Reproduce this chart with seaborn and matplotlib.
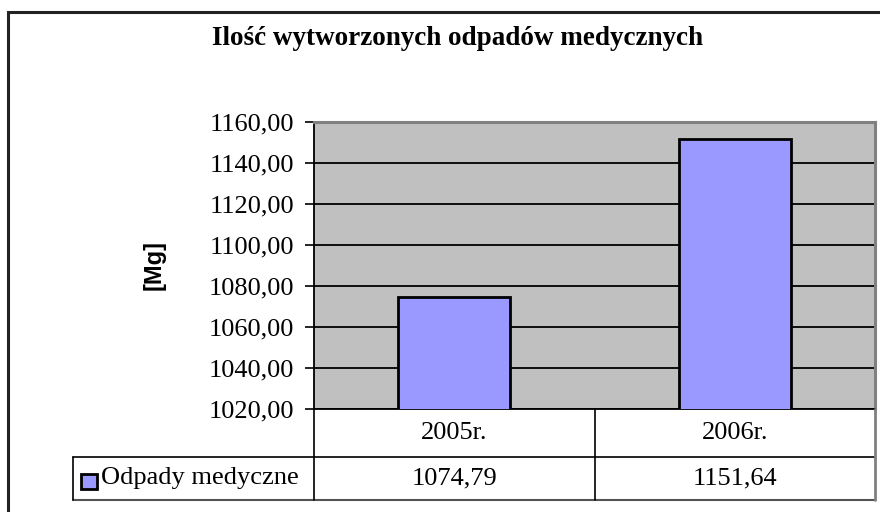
import matplotlib

matplotlib.use("Agg")

import matplotlib.pyplot as plt
import matplotlib.transforms as mtransforms
from matplotlib.lines import Line2D
from matplotlib.patches import Rectangle
import seaborn as sns


years = ["2005r.", "2006r."]
values = [1074.79, 1151.64]
series_name = "Odpady medyczne"
title = "Ilość wytworzonych odpadów medycznych"
y_label = "[Mg]"
y_ticks = [1020, 1040, 1060, 1080, 1100, 1120, 1140, 1160]

BAR_COLOR = "#9999FF"
PLOT_BG = "#C0C0C0"
SERIF = "Liberation Serif"
SANS = "Liberation Sans"

W, H = 880, 512


def fx(px):
    return px / W


def fy(py):
    return 1 - py / H


def fmt(v):
    return f"{v:.2f}".replace(".", ",")


sns.set_style("white")
plt.rcParams["font.family"] = [SERIF, "DejaVu Serif"]
plt.rcParams["text.color"] = "black"
plt.rcParams["axes.labelcolor"] = "black"
plt.rcParams["ytick.color"] = "black"
plt.rcParams["ytick.labelcolor"] = "black"

fig = plt.figure(figsize=(W / 100, H / 100), dpi=100)

# outer chart border
fig.add_artist(Rectangle((fx(8), fy(540)), fx(920) - fx(8), fy(12) - fy(540),
                         transform=fig.transFigure, fill=False,
                         edgecolor="#222222", linewidth=2.2))

ax = fig.add_axes([fx(314), fy(409), fx(875) - fx(314), fy(122) - fy(409)])
ax.set_facecolor(PLOT_BG)

sns.barplot(x=years, y=values, ax=ax, color=BAR_COLOR, saturation=1,
            edgecolor="black", linewidth=2, width=0.4, zorder=3)

ax.set_xlim(-0.5, 1.5)
ax.set_ylim(1020, 1160)
ax.set_yticks(y_ticks)
ax.set_yticklabels([fmt(t) for t in y_ticks], fontsize=19, color="black")
ax.set_xticks([])
ax.set_xlabel("")
ax.set_ylabel(y_label, fontsize=17, fontweight="bold", family=SANS, labelpad=31,
              color="black")
ax.tick_params(axis="y", direction="out", length=6.5, width=1.2, color="black", pad=8,
               left=True)
ax.yaxis.grid(True, color="black", linewidth=1.3, zorder=1)
ax.set_axisbelow(True)

for side in ("top", "right"):
    ax.spines[side].set_color("#808080")
    ax.spines[side].set_linewidth(2.2)
for side in ("left", "bottom"):
    ax.spines[side].set_color("black")
    ax.spines[side].set_linewidth(1.3)

fig.text(fx(457), fy(45), title, ha="center", va="baseline",
         fontsize=19.5, fontweight="bold", color="black")

# data table under the plot
trans = mtransforms.blended_transform_factory(ax.transData, fig.transFigure)
line_kw = dict(color="black", linewidth=1.2)
row1_top, row2_top, row2_bottom = fy(409), fy(457), fy(500)
fig.add_artist(Line2D([fx(73), fx(875)], [row2_top, row2_top],
                      transform=fig.transFigure, **line_kw))
fig.add_artist(Line2D([fx(73), fx(875)], [row2_bottom, row2_bottom],
                      transform=fig.transFigure, color="#555555", linewidth=1.5))
fig.add_artist(Line2D([fx(73), fx(73)], [row2_top, row2_bottom],
                      transform=fig.transFigure, **line_kw))
fig.add_artist(Line2D([fx(875), fx(875)], [row1_top, row2_bottom],
                      transform=fig.transFigure, color="#808080", linewidth=2))
for edge in (-0.5, 0.5):
    fig.add_artist(Line2D([edge, edge], [row1_top, row2_bottom],
                          transform=trans, **line_kw))

for i, (yr, val) in enumerate(zip(years, values)):
    fig.text(i, fy(433), yr, transform=trans, ha="center", va="center",
             fontsize=19, color="black")
    fig.text(i, fy(478), fmt(val), transform=trans, ha="center", va="center",
             fontsize=19, color="black")

fig.add_artist(Rectangle((fx(81), fy(489)), fx(16), fy(474) - fy(489),
                         transform=fig.transFigure, facecolor=BAR_COLOR,
                         edgecolor="black", linewidth=2))
fig.text(fx(101), fy(478), series_name, ha="left", va="center", fontsize=19,
         color="black")

fig.savefig("out.png", dpi=100)
plt.close(fig)
